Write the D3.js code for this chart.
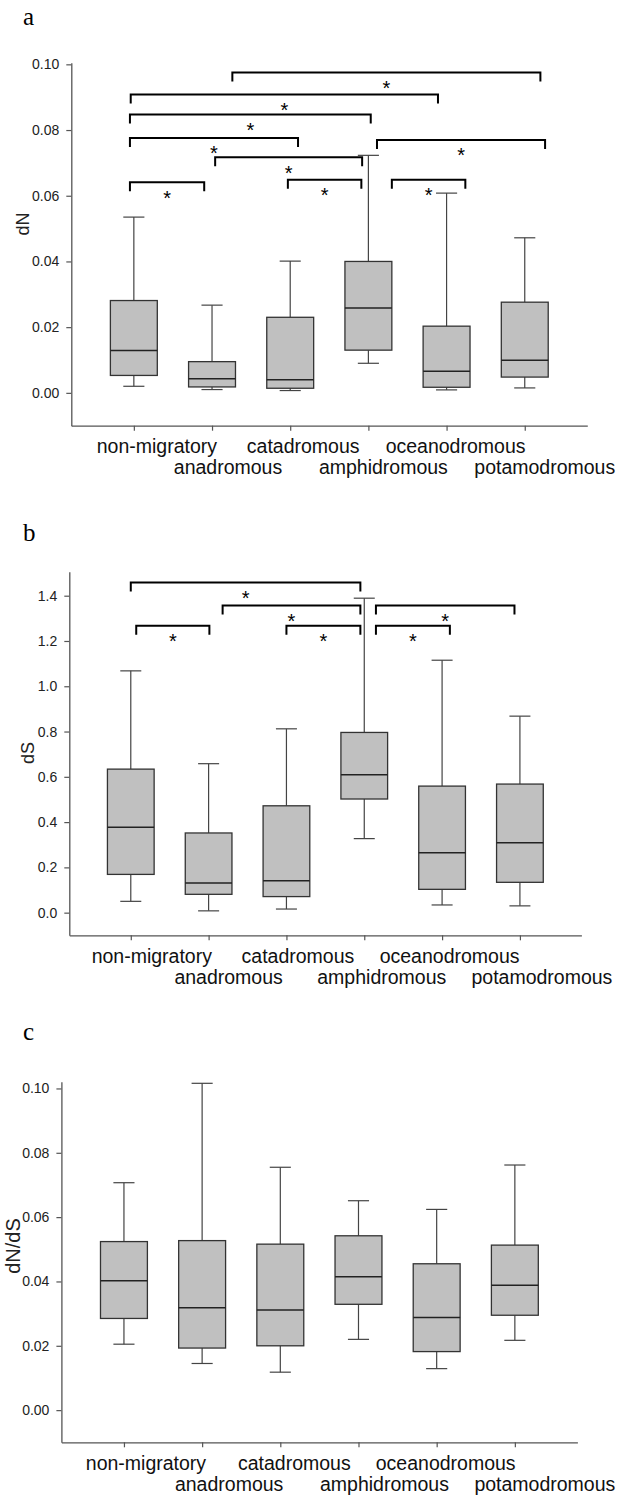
<!DOCTYPE html>
<html>
<head>
<meta charset="utf-8">
<script src="https://cdn.jsdelivr.net/npm/d3@7"></script>
<style>
body { margin: 0; background: #fff; }
svg { display: block; }
</style>
</head>
<body>
<div id="chart"></div>
<script>
// categories shown on every x axis
var categories = ["non-migratory", "anadromous", "catadromous", "amphidromous", "oceanodromous", "potamodromous"];

// five-number summaries per category: [whisker low, Q1, median, Q3, whisker high]
var dN = [
  [0.0020, 0.0053, 0.0129, 0.0281, 0.0535],
  [0.0010, 0.0018, 0.0043, 0.0095, 0.0267],
  [0.0007, 0.0014, 0.0040, 0.0230, 0.0401],
  [0.0090, 0.0130, 0.0258, 0.0400, 0.0723],
  [0.0009, 0.0017, 0.0066, 0.0203, 0.0608],
  [0.0015, 0.0048, 0.0099, 0.0276, 0.0472]
];
var dS = [
  [0.050, 0.169, 0.377, 0.634, 1.068],
  [0.008, 0.081, 0.131, 0.352, 0.658],
  [0.016, 0.071, 0.141, 0.472, 0.812],
  [0.327, 0.502, 0.609, 0.796, 1.389],
  [0.034, 0.103, 0.265, 0.559, 1.115],
  [0.030, 0.134, 0.309, 0.568, 0.868]
];
var dNdS = [
  [0.0205, 0.0285, 0.0402, 0.0524, 0.0707],
  [0.0145, 0.0193, 0.0318, 0.0527, 0.1016],
  [0.0118, 0.0200, 0.0311, 0.0516, 0.0755],
  [0.0220, 0.0329, 0.0415, 0.0542, 0.0651],
  [0.0129, 0.0182, 0.0288, 0.0455, 0.0624],
  [0.0217, 0.0295, 0.0388, 0.0513, 0.0762]
];

// significance brackets: [from (category index), to (category index), level]
var dNBrackets = [
  [1.26, 5.20, 0.0975], [-0.04, 3.89, 0.0908], [-0.05, 3.03, 0.0847],
  [-0.05, 2.10, 0.0776], [1.04, 2.92, 0.0717], [3.11, 5.26, 0.0770],
  [-0.05, 0.90, 0.0641], [1.97, 2.91, 0.0649], [3.30, 4.24, 0.0649]
];
var dSBrackets = [
  [0.00, 2.95, 1.458], [1.18, 2.95, 1.357], [0.07, 1.01, 1.267],
  [2.00, 2.95, 1.267], [3.15, 4.93, 1.357], [3.15, 4.10, 1.267]
];
var dNdSBrackets = [];

// y tick values
var dNTicks = [0, 0.02, 0.04, 0.06, 0.08, 0.10];
var dSTicks = [0, 0.2, 0.4, 0.6, 0.8, 1.0, 1.2, 1.4];
var dNdSTicks = [0, 0.02, 0.04, 0.06, 0.08, 0.10];

// panel layout
var panels = [
  {tag: "a", tagY: 25, title: "dN", stats: dN, brackets: dNBrackets, ticks: dNTicks, fmt: ".2f",
   left: 71.3, right: 587.3, top: 62.7, bottom: 425.7, domain: [-0.01, 0.1005], pad: 0.8,
   titleX: 29, titleY: 224, titleSize: 18, labelDx: [23, 16, 13, 15, 9, 20]},
  {tag: "b", tagY: 541, title: "dS", stats: dS, brackets: dSBrackets, ticks: dSTicks, fmt: ".1f",
   left: 69.3, right: 581.4, top: 571.7, bottom: 935.3, domain: [-0.1, 1.506], pad: 0.79,
   titleX: 34, titleY: 753, titleSize: 18, labelDx: [21, 20, 11.5, 17.5, 7.5, 22]},
  {tag: "c", tagY: 1040, title: "dN/dS", stats: dNdS, brackets: dNdSBrackets, ticks: dNdSTicks, fmt: ".2f",
   left: 61.4, right: 577.4, top: 1081.7, bottom: 1442.3, domain: [-0.01, 0.1021], pad: 0.8,
   titleX: 20, titleY: 1246, titleSize: 20, labelDx: [22, 27, 14, 26, 9, 30]}
];

var svg = d3.select("#chart")
  .append("svg")
    .attr("width", 620)
    .attr("height", 1498);

var axisColor = "#555",
    textColor = "#222";

panels.forEach(function(p) {
  var g = svg.append("g");

  var x = d3.scalePoint()
    .domain(categories)
    .range([p.left, p.right])
    .padding(p.pad);
  var y = d3.scaleLinear()
    .domain(p.domain)
    .range([p.bottom, p.top]);
  var step = x.step();
  var xi = function(i) { return x(categories[0]) + i * step; };
  var boxW = step * 0.6, capW = step * 0.27;

  // panel letter
  g.append("text")
    .attr("x", 23)
    .attr("y", p.tagY)
    .text(p.tag)
    .attr("font-family", "'Liberation Serif', 'Times New Roman', serif")
    .attr("font-size", "25px")
    .attr("fill", "#000");

  // y axis
  var yAxis = g.append("g")
    .attr("transform", "translate(" + p.left + ",0)")
    .call(d3.axisLeft(y).tickValues(p.ticks).tickFormat(d3.format(p.fmt)).tickSize(5).tickPadding(7).tickSizeOuter(0));
  yAxis.select(".domain").attr("stroke", axisColor).attr("stroke-width", 1.3);
  yAxis.selectAll(".tick line").attr("stroke", axisColor).attr("stroke-width", 1.2);
  yAxis.selectAll("text")
    .attr("font-family", "Arial, 'Liberation Sans', sans-serif")
    .attr("font-size", "14px")
    .attr("fill", textColor);

  // x axis
  var xAxis = g.append("g")
    .attr("transform", "translate(0," + p.bottom + ")")
    .call(d3.axisBottom(x).tickSize(5).tickSizeOuter(0).tickFormat(""));
  xAxis.select(".domain").attr("stroke", axisColor).attr("stroke-width", 1.3);
  xAxis.selectAll(".tick line").attr("stroke", axisColor).attr("stroke-width", 1.2);

  // staggered category labels
  g.selectAll(".xlab")
    .data(categories)
    .enter()
    .append("text")
    .attr("x", function(d, i) { return x(d) + p.labelDx[i]; })
    .attr("y", function(d, i) { return p.bottom + (i % 2 == 0 ? 27.5 : 48.5); })
    .attr("text-anchor", "middle")
    .text(function(d) { return d; })
    .attr("font-family", "Arial, 'Liberation Sans', sans-serif")
    .attr("font-size", "19.5px")
    .attr("fill", "#111");

  // y title
  g.append("text")
    .attr("transform", "translate(" + p.titleX + "," + p.titleY + ") rotate(-90)")
    .attr("text-anchor", "middle")
    .text(p.title)
    .attr("font-family", "Arial, 'Liberation Sans', sans-serif")
    .attr("font-size", p.titleSize + "px")
    .attr("fill", textColor);

  // boxes
  var boxes = g.selectAll(".box")
    .data(p.stats)
    .enter()
    .append("g");

  // whiskers
  boxes.append("line")
    .attr("x1", function(d, i) { return x(categories[i]); })
    .attr("x2", function(d, i) { return x(categories[i]); })
    .attr("y1", function(d) { return y(d[0]); })
    .attr("y2", function(d) { return y(d[1]); })
    .attr("stroke", "#444").attr("stroke-width", 1.2);
  boxes.append("line")
    .attr("x1", function(d, i) { return x(categories[i]); })
    .attr("x2", function(d, i) { return x(categories[i]); })
    .attr("y1", function(d) { return y(d[3]); })
    .attr("y2", function(d) { return y(d[4]); })
    .attr("stroke", "#444").attr("stroke-width", 1.2);
  // caps
  [0, 4].forEach(function(k) {
    boxes.append("line")
      .attr("x1", function(d, i) { return x(categories[i]) - capW / 2; })
      .attr("x2", function(d, i) { return x(categories[i]) + capW / 2; })
      .attr("y1", function(d) { return y(d[k]); })
      .attr("y2", function(d) { return y(d[k]); })
      .attr("stroke", "#444").attr("stroke-width", 1.2);
  });
  boxes.append("rect")
    .attr("x", function(d, i) { return x(categories[i]) - boxW / 2; })
    .attr("y", function(d) { return y(d[3]); })
    .attr("width", boxW)
    .attr("height", function(d) { return y(d[1]) - y(d[3]); })
    .attr("fill", "#c0c0c0")
    .attr("stroke", "#333")
    .attr("stroke-width", 1.3);
  boxes.append("line")
    .attr("x1", function(d, i) { return x(categories[i]) - boxW / 2; })
    .attr("x2", function(d, i) { return x(categories[i]) + boxW / 2; })
    .attr("y1", function(d) { return y(d[2]); })
    .attr("y2", function(d) { return y(d[2]); })
    .attr("stroke", "#222").attr("stroke-width", 1.5);

  // significance brackets
  var br = g.selectAll(".bracket")
    .data(p.brackets)
    .enter()
    .append("g");
  br.append("path")
    .attr("d", function(d) {
      var x1 = xi(d[0]), x2 = xi(d[1]), yy = y(d[2]);
      return "M" + x1 + "," + (yy + 9) + "V" + yy + "H" + x2 + "V" + (yy + 9);
    })
    .attr("fill", "none")
    .attr("stroke", "#000")
    .attr("stroke-width", 2);
  br.append("text")
    .attr("x", function(d) { return (xi(d[0]) + xi(d[1])) / 2; })
    .attr("y", function(d) { return y(d[2]) + 22.5; })
    .attr("text-anchor", "middle")
    .text("*")
    .attr("font-family", "Arial, 'Liberation Sans', sans-serif")
    .attr("font-size", "20px")
    .attr("fill", "#000");
});
</script>
</body>
</html>
